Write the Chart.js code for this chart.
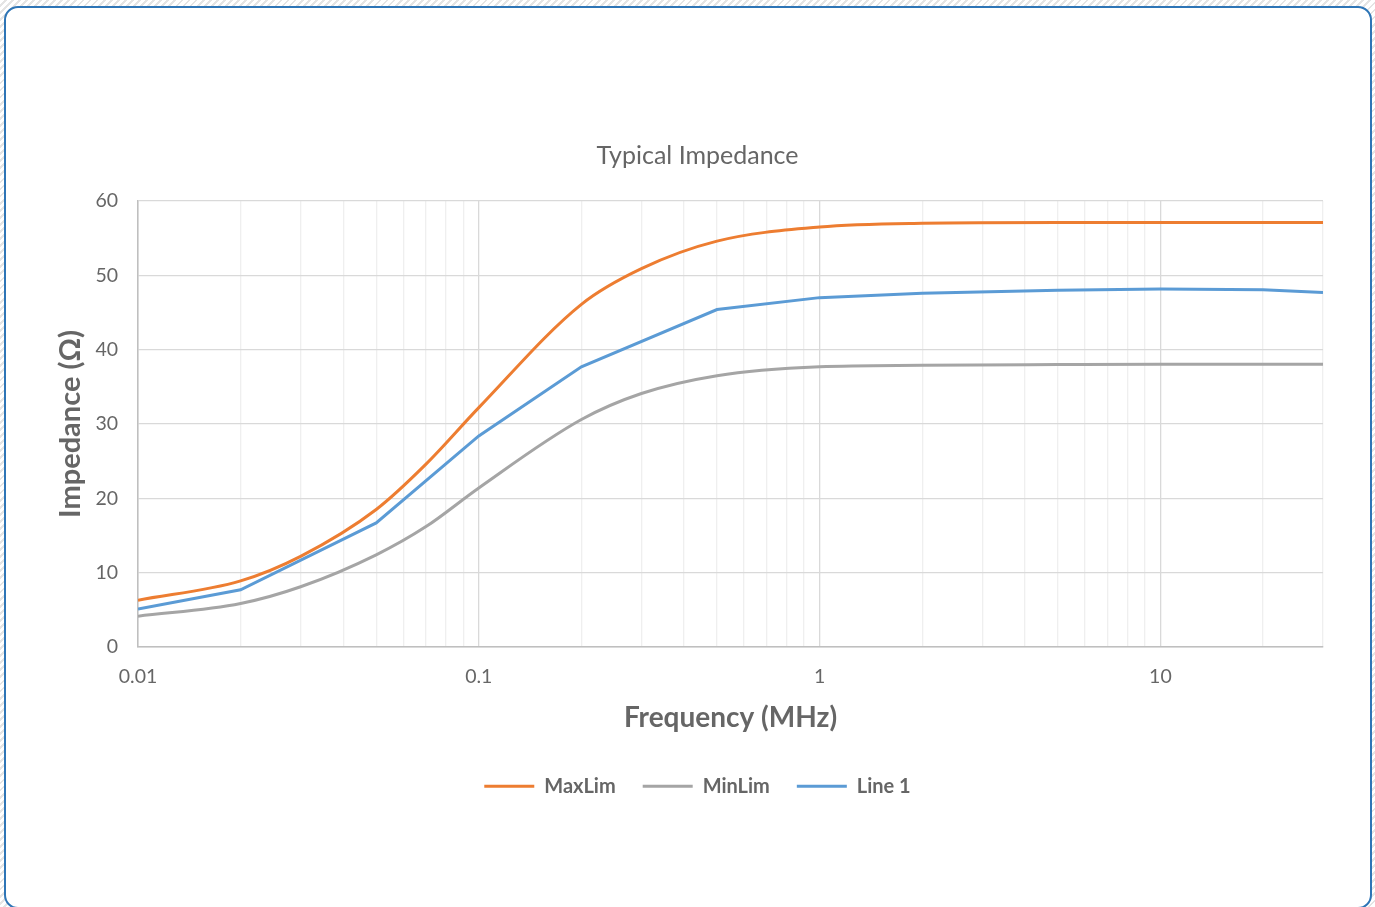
<!DOCTYPE html>
<html>
<head>
<meta charset="utf-8">
<title>Typical Impedance</title>
<script src="https://cdn.jsdelivr.net/npm/chart.js@4.4.1/dist/chart.umd.min.js"></script>
<style>
    html, body {
        margin: 0;
        padding: 0;
        width: 1375px;
        height: 907px;
        overflow: hidden;
        background: repeating-linear-gradient(135deg, #ffffff 0 3px, #e4e4e4 3px 5px);
    }
    #frame {
        position: absolute;
        left: 4px;
        top: 6px;
        width: 1368px;
        height: 903px;
        box-sizing: border-box;
        border: 2px solid #2e75b6;
        border-radius: 14px;
        background: #ffffff;
    }
    #chart {
        position: absolute;
        left: 0;
        top: 0;
    }
</style>
</head>
<body>
<div id="frame"></div>
<canvas id="chart" width="1375" height="907"></canvas>
<script>
// frequency points (MHz)
const freqLine = [0.01, 0.02, 0.05, 0.1, 0.2, 0.5, 1, 2, 5, 10, 20, 30];
const freqLim = [0.01, 0.02, 0.03, 0.05, 0.07, 0.1, 0.2, 0.3, 0.5, 1, 2, 5, 10, 20, 30];

// impedance values (ohm)
const maxLim = [6.3, 8.9, 12.2, 18.5, 24.6, 32.2, 46.1, 50.9, 54.6, 56.5, 57.0, 57.1, 57.1, 57.1, 57.1];
const minLim = [4.15, 5.85, 8.1, 12.4, 16.2, 21.4, 30.6, 34.1, 36.5, 37.7, 37.9, 38.0, 38.05, 38.05, 38.05];
const line1 = [5.1, 7.7, 16.7, 28.4, 37.7, 45.4, 47.0, 47.6, 48.0, 48.15, 48.07, 47.7];

const xDecades = [0.01, 0.1, 1, 10];
const xDecadeLabels = ['0.01', '0.1', '1', '10'];

const textColor = '#666666';
const fontFamily = 'Lato, "Open Sans", sans-serif';

function points(xs, ys) {
    return xs.map((x, i) => ({ x: x, y: ys[i] }));
}

function decadeIndex(v) {
    return xDecades.findIndex(d => Math.abs(v - d) < d * 1e-6);
}

const ctx = document.getElementById('chart').getContext('2d');

new Chart(ctx, {
    type: 'line',
    data: {
        datasets: [{
            label: 'MaxLim',
            data: points(freqLim, maxLim),
            borderColor: '#ed7d31',
            backgroundColor: '#ed7d31',
            borderWidth: 3,
            pointRadius: 0,
            cubicInterpolationMode: 'monotone',
            order: 3
        }, {
            label: 'MinLim',
            data: points(freqLim, minLim),
            borderColor: '#a5a5a5',
            backgroundColor: '#a5a5a5',
            borderWidth: 3,
            pointRadius: 0,
            cubicInterpolationMode: 'monotone',
            order: 2
        }, {
            label: 'Line 1',
            data: points(freqLine, line1),
            borderColor: '#5b9bd5',
            backgroundColor: '#5b9bd5',
            borderWidth: 3,
            pointRadius: 0,
            tension: 0,
            order: 1
        }]
    },
    options: {
        responsive: false,
        animation: false,
        layout: {
            padding: { left: 72, right: 52, top: 140.6, bottom: 100.8 }
        },
        plugins: {
            title: {
                display: true,
                text: 'Typical Impedance',
                color: textColor,
                font: { family: fontFamily, size: 25, weight: 'normal' },
                padding: { top: 0, bottom: 30.4 }
            },
            legend: {
                position: 'bottom',
                labels: {
                    color: textColor,
                    font: { family: fontFamily, size: 20, weight: 'bold' },
                    boxWidth: 50,
                    boxHeight: 3,
                    padding: 27,
                    sort: (a, b) => a.datasetIndex - b.datasetIndex,
                    generateLabels: (chart) => {
                        const items = Chart.defaults.plugins.legend.labels.generateLabels(chart);
                        items.forEach(it => {
                            it.lineWidth = 0;
                            it.fillStyle = it.strokeStyle;
                        });
                        return items;
                    }
                }
            },
            tooltip: { enabled: false }
        },
        scales: {
            x: {
                type: 'logarithmic',
                min: 0.01,
                max: 30,
                afterBuildTicks: (scale) => {
                    // keep 1..9 per decade, drop the 1.5 steps
                    scale.ticks = scale.ticks.filter(t => {
                        const m = t.value / Math.pow(10, Math.floor(Math.log10(t.value) + 1e-9));
                        return Math.abs(m - Math.round(m)) < 1e-6;
                    });
                },
                afterFit: (scale) => { scale.height = 102.2; },
                ticks: {
                    autoSkip: false,
                    maxRotation: 0,
                    padding: 18,
                    color: textColor,
                    font: { family: fontFamily, size: 19.5 },
                    callback: (value) => {
                        const i = decadeIndex(value);
                        return i >= 0 ? xDecadeLabels[i] : '';
                    }
                },
                grid: {
                    drawTicks: false,
                    lineWidth: 1.3,
                    color: (c) => (c.tick && decadeIndex(c.tick.value) >= 0) ? '#d9d9d9' : '#efefef'
                },
                border: { color: '#bfbfbf', width: 1.5 },
                title: {
                    display: true,
                    text: 'Frequency (MHz)',
                    color: textColor,
                    font: { family: fontFamily, size: 28, weight: 'bold' },
                    padding: { top: 0, bottom: 14.5 }
                }
            },
            y: {
                min: 0,
                max: 60,
                afterFit: (scale) => { scale.width = 66; },
                ticks: {
                    stepSize: 10,
                    padding: 20,
                    color: textColor,
                    font: { family: fontFamily, size: 19.5 }
                },
                grid: {
                    drawTicks: false,
                    lineWidth: 1.3,
                    color: '#d9d9d9'
                },
                border: { color: '#bfbfbf', width: 1.5 },
                title: {
                    display: true,
                    text: 'Impedance (Ω)',
                    color: textColor,
                    font: { family: fontFamily, size: 29, weight: 'bold' },
                    padding: { top: -19, bottom: 0 }
                }
            }
        }
    }
});
</script>
</body>
</html>
